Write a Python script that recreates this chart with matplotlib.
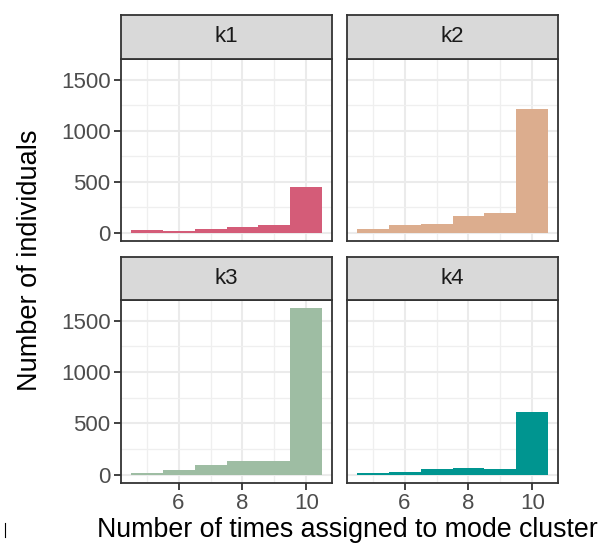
import matplotlib
matplotlib.use("Agg")
import matplotlib.pyplot as plt
from matplotlib.lines import Line2D

plt.rcParams['font.family'] = ['Liberation Sans', 'DejaVu Sans']

# counts per bin (number of times assigned to the mode cluster: 5..10)
bins = [5, 6, 7, 8, 9, 10]
panels = ['k1', 'k2', 'k3', 'k4']
k1_counts = [30, 15, 33, 55, 80, 445]
k2_counts = [36, 77, 87, 166, 195, 1210]
k3_counts = [20, 48, 90, 133, 133, 1620]
k4_counts = [12, 22, 51, 64, 60, 606]
counts = [k1_counts, k2_counts, k3_counts, k4_counts]
colours = ['#D45C78', '#DCAD8E', '#9EBDA3', '#009590']

# bin edges, width 1 centred on each integer
edges = [b - 0.5 for b in bins] + [bins[-1] + 0.5]

W, H = 601, 551
fig = plt.figure(figsize=(W / 100, H / 100), dpi=100)

cols = [(121, 332), (347, 558)]
rows = [(15, 59, 241), (257, 300, 483)]  # strip top, panel top, panel bottom

ymax = max(max(c) for c in counts)
ylo, yhi = -0.05 * ymax, ymax * 1.05
xlo, xhi = 4.5 - 0.3, 10.5 + 0.3

def frac(x0, x1, y0, y1):
    return [x0 / W, 1 - y1 / H, (x1 - x0) / W, (y1 - y0) / H]

for i, name in enumerate(panels):
    r, c = divmod(i, 2)
    x0, x1 = cols[c]
    st, pt, pb = rows[r]

    ax = fig.add_axes(frac(x0, x1, pt, pb))
    ax.stairs(counts[i], edges, fill=True, color=colours[i], zorder=3)
    ax.set_xlim(xlo, xhi)
    ax.set_ylim(ylo, yhi)
    ax.set_xticks([6, 8, 10])
    ax.set_xticks([5, 7, 9], minor=True)
    ax.set_yticks([0, 500, 1000, 1500])
    ax.set_yticks([250, 750, 1250], minor=True)
    ax.grid(True, which='major', color='#EBEBEB', linewidth=1.5, zorder=0)
    ax.grid(True, which='minor', color='#EFEFEF', linewidth=0.9, zorder=0)
    ax.set_axisbelow(True)
    for sp in ax.spines.values():
        sp.set_color('#333333')
        sp.set_linewidth(1.3)
    ax.tick_params(which='major', length=5, width=1.3, color='#333333',
                   labelcolor='#4D4D4D', labelsize=16, pad=2.5)
    ax.tick_params(which='minor', length=0)
    if c == 1:
        ax.tick_params(axis='y', labelleft=False, length=0)
    if r == 0:
        ax.tick_params(axis='x', labelbottom=False, length=0)

    # facet strip
    sax = fig.add_axes(frac(x0, x1, st, pt))
    sax.set_facecolor('#D9D9D9')
    sax.set_xticks([])
    sax.set_yticks([])
    for sp in sax.spines.values():
        sp.set_color('#333333')
        sp.set_linewidth(1.3)
    sax.text(0.5, 0.5, name, ha='center', va='center', fontsize=16,
             color='#1A1A1A', transform=sax.transAxes)

fig.text(347 / W, 1 - 530 / H, 'Number of times assigned to mode cluster',
         ha='center', va='center', fontsize=19.3, color='black')
fig.text(30 / W, 1 - 260 / H, 'Number of individuals', ha='center',
         va='center', rotation=90, fontsize=19.5, color='black')

fig.add_artist(Line2D([5 / W, 5 / W], [1 - 537 / H, 1 - 523 / H],
                      color='black', linewidth=0.8))

fig.savefig('out.png', dpi=100)
